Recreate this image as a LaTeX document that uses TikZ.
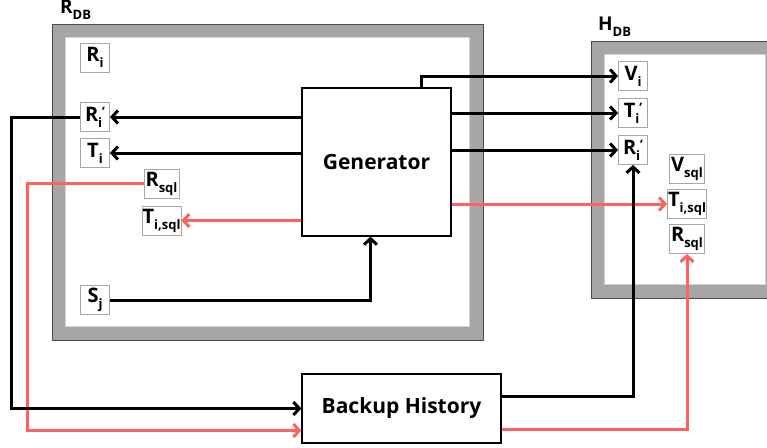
\documentclass[tikz,border=0pt]{standalone}
\usepackage{fontspec}
\setmainfont{Open Sans}
\usepackage{tikz}
\usetikzlibrary{positioning, arrows.meta}
\definecolor{sqlred}{RGB}{255,97,97}
\newcommand{\sub}[1]{\raisebox{-0.3em}{\fontsize{13}{13}\selectfont #1}}
\newcommand{\subp}[1]{\raisebox{-0.3em}{\fontsize{13}{13}\selectfont #1}\raisebox{0.22em}{\fontsize{13}{13}\selectfont '}}
\tikzset{
->, % every connector ends in an arrow
>={Straight Barb[length=6pt, width=13pt]}, % open chevron heads
lbl/.style={draw=gray!70, line width=0.8pt, fill=white, minimum width=29pt, minimum height=29pt, inner sep=0.5pt, font=\fontsize{20}{20}\selectfont\bfseries}, % small table boxes
wide/.style={minimum width=35pt}, % boxes with a longer subscript
proc/.style={draw=black, line width=1.2pt, fill=white, font=\fontsize{21}{21}\selectfont\bfseries}, % the two process boxes
frame/.style={fill=gray!70, draw=black!70, line width=0.8pt, inner sep=0}, % gray band of a database
pane/.style={fill=white, draw=gray!35, line width=0.6pt, inner sep=0}, % white inside of a database
dbname/.style={anchor=south west, inner sep=0, font=\fontsize{19}{19}\selectfont\bfseries}, % database titles
sql/.style={sqlred}, % red sql flow
}
\begin{document}
\begin{tikzpicture}[x=1pt, y=-1pt, line width=3pt, node distance=37pt, on grid]
    \useasboundingbox (0,0) rectangle (767,447);
    \clip (0,0) rectangle (767,447);

    % databases
    \node[frame, minimum width=431pt, minimum height=316pt] (rdb) at (267.5,182) {};
    \node[pane, minimum width=404pt, minimum height=289pt] at (rdb) {};
    \node[dbname] at ([xshift=7pt, yshift=3pt]rdb.north west) {R\sub{DB}};
    \node[frame, minimum width=187pt, minimum height=257pt] (hdb) at (684.5,169.5) {};
    \node[pane, minimum width=161pt, minimum height=230pt] at (hdb) {};
    \node[dbname] at ([xshift=6pt, yshift=3pt]hdb.north west) {H\sub{DB}};

    % processes
    \node[proc, minimum width=149pt, minimum height=148pt] (gen) at (376.5,162) {Generator};
    \node[proc, minimum width=199pt, minimum height=69pt] (bh) at (401.5,408.5) {Backup History};

    % tables in R_DB
    \node[lbl] (ri) at (95,57.5) {R\sub{i}};
    \node[lbl] (rip) at (95,117) {R\subp{i}};
    \node[lbl, below of=rip, node distance=36pt] (ti) {T\sub{i}};
    \node[lbl, wide] (rsql) at (161.5,183.5) {R\sub{sql}};
    \node[lbl, wide, below of=rsql] (tisql) {T\sub{i,sql}};
    \node[lbl] (sj) at (95,300) {S\sub{j}};

    % tables in H_DB
    \node[lbl] (hvi) at (633,76) {V\sub{i}};
    \node[lbl, below of=hvi] (htip) {T\subp{i}};
    \node[lbl, below of=htip] (hrip) {R\subp{i}};
    \node[lbl, wide] (hvsql) at (687,169) {V\sub{sql}};
    \node[lbl, wide, below of=hvsql, node distance=35pt] (htisql) {T\sub{i,sql}};
    \node[lbl, wide, below of=htisql, node distance=35pt] (hrsql) {R\sub{sql}};

    \draw[-]
    (gen.west |- rip) edge[->] (rip.east)
    (gen.west |- ti) edge[->] (ti.east)
    (gen.east |- htip) edge[->] (htip.west)
    (gen.east |- hrip) edge[->] (hrip.west);

    \draw[-, sql]
    (gen.west |- tisql) edge[->] (tisql.east)
    (gen.east |- htisql) edge[->] (htisql.west);

    \draw ([xshift=-30pt]gen.north east) |- (hvi.west);
    \draw (sj.east) -| ([xshift=-6pt]gen.south);

    \draw[sql] (rsql.west) -- ++(-116,0) |- ([yshift=-22pt]bh.west);
    \draw (rip.west) -- ++(-69,0) |- (bh.west);

    \draw ([yshift=12pt]bh.east) -| (hrip.south);
    \draw[sql] ([yshift=-21pt]bh.east) -| (hrsql.south);

  \end{tikzpicture}
\end{document}
